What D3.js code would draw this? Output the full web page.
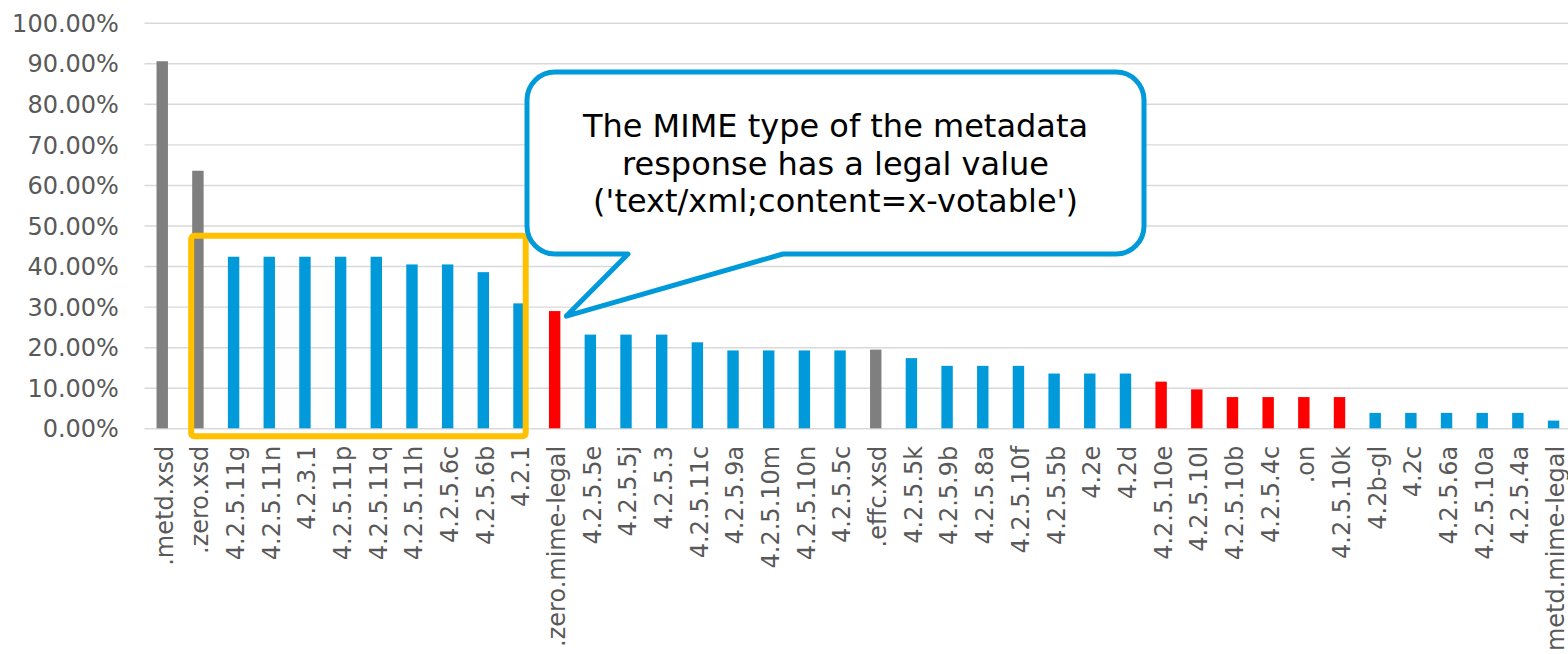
<!DOCTYPE html>
<html>
<head>
<meta charset="utf-8">
<script src="https://cdn.jsdelivr.net/npm/d3@7"></script>
<style>
  body { margin: 0; background: #fff; }
  svg { display: block; font-family: "DejaVu Sans", Verdana, sans-serif; }
</style>
</head>
<body>
<svg id="chart" width="1568" height="654"></svg>
<script>
// test ids along the x axis
var categories = [".metd.xsd", ".zero.xsd", "4.2.5.11g", "4.2.5.11n", "4.2.3.1", "4.2.5.11p", "4.2.5.11q",
  "4.2.5.11h", "4.2.5.6c", "4.2.5.6b", "4.2.1", ".zero.mime-legal", "4.2.5.5e", "4.2.5.5j", "4.2.5.3",
  "4.2.5.11c", "4.2.5.9a", "4.2.5.10m", "4.2.5.10n", "4.2.5.5c", ".effc.xsd", "4.2.5.5k", "4.2.5.9b",
  "4.2.5.8a", "4.2.5.10f", "4.2.5.5b", "4.2e", "4.2d", "4.2.5.10e", "4.2.5.10l", "4.2.5.10b", "4.2.5.4c",
  ".on", "4.2.5.10k", "4.2b-gl", "4.2c", "4.2.5.6a", "4.2.5.10a", "4.2.5.4a", "metd.mime-legal"];

// failure share per test
var values = [0.905, 0.635, 0.423, 0.423, 0.423, 0.423, 0.423,
  0.404, 0.404, 0.385, 0.308, 0.289, 0.231, 0.231, 0.231,
  0.212, 0.192, 0.192, 0.192, 0.192, 0.194, 0.173, 0.154,
  0.154, 0.154, 0.135, 0.135, 0.135, 0.115, 0.096, 0.077, 0.077,
  0.077, 0.077, 0.038, 0.038, 0.038, 0.038, 0.038, 0.019];

// bar colour group: s = schema, m = mime, t = other test
var groups = ["s", "s", "t", "t", "t", "t", "t",
  "t", "t", "t", "t", "m", "t", "t", "t",
  "t", "t", "t", "t", "t", "s", "t", "t",
  "t", "t", "t", "t", "t", "m", "m", "m", "m",
  "m", "m", "t", "t", "t", "t", "t", "t"];

var yTicks = [0, 0.1, 0.2, 0.3, 0.4, 0.5, 0.6, 0.7, 0.8, 0.9, 1.0];

var calloutLines = ["The MIME type of the metadata", "response has a legal value", "('text/xml;content=x-votable')"];

var colors = { s: "#7f7f7f", m: "#ff0000", t: "#009ada" };
var font = "'DejaVu Sans', Verdana, sans-serif";

var svg = d3.select("#chart");
var W = +svg.attr("width");

var plotLeft = 144.4, plotRight = 1571.4, plotTop = 22.7, plotBottom = 428.3;

var x = d3.scaleBand()
  .domain(categories)
  .range([plotLeft, plotRight])
  .paddingInner(0.68)
  .paddingOuter(0.34);

var y = d3.scaleLinear()
  .domain([0, 1])
  .range([plotBottom, plotTop]);

// y axis + gridlines
var yAxis = d3.axisLeft(y)
  .tickValues(yTicks)
  .tickFormat(d3.format(".2%"))
  .tickSize(-(W - plotLeft))
  .tickPadding(25.5);

var gy = svg.append("g")
  .attr("transform", "translate(" + plotLeft + ",0)")
  .call(yAxis)
  .attr("font-family", font)
  .attr("font-size", 24);
gy.select(".domain").remove();
gy.selectAll(".tick line").attr("stroke", "#d9d9d9").attr("stroke-width", 1.4);
gy.selectAll(".tick text")
  .attr("fill", "#595959")
  .attr("dy", "0.36em");

// bars
svg.append("g").selectAll("rect")
  .data(categories)
  .join("rect")
  .attr("x", function(d) { return x(d); })
  .attr("width", x.bandwidth())
  .attr("y", function(d, i) { return y(values[i]); })
  .attr("height", function(d, i) { return y(0) - y(values[i]); })
  .attr("fill", function(d, i) { return colors[groups[i]]; });

// x axis labels
var xAxis = d3.axisBottom(x).tickSize(0);
var gx = svg.append("g")
  .attr("transform", "translate(0," + plotBottom + ")")
  .call(xAxis)
  .attr("font-family", font)
  .attr("font-size", 24);
gx.select(".domain").remove();
gx.selectAll(".tick text")
  .attr("transform", "rotate(-90)")
  .attr("x", -17.5)
  .attr("y", 2)
  .attr("dy", "0.35em")
  .style("text-anchor", "end")
  .attr("fill", "#595959");

// yellow highlight box around .zero.xsd .. 4.2.1
var x0 = x(".zero.xsd") - 1, x1 = x("4.2.1") + x.bandwidth() + 1;
svg.append("rect")
  .attr("x", x0)
  .attr("y", y(0.475))
  .attr("width", x1 - x0)
  .attr("height", y(0) + 8 - y(0.475))
  .attr("rx", 3)
  .attr("fill", "none")
  .attr("stroke", "#ffc000")
  .attr("stroke-width", 6);

// callout bubble pointing at .zero.mime-legal
var cL = 527, cR = 1144, cT = 72, cB = 254, r = 28;
var tipX = x(".zero.mime-legal") + x.bandwidth() + 6;
var tipY = y(values[11]) + 5;
var p = d3.path();
p.moveTo(cL + r, cT);
p.lineTo(cR - r, cT);
p.arcTo(cR, cT, cR, cT + r, r);
p.lineTo(cR, cB - r);
p.arcTo(cR, cB, cR - r, cB, r);
p.lineTo(783, cB);
p.lineTo(tipX, tipY);
p.lineTo(628, cB);
p.lineTo(cL + r, cB);
p.arcTo(cL, cB, cL, cB - r, r);
p.lineTo(cL, cT + r);
p.arcTo(cL, cT, cL + r, cT, r);
p.closePath();

svg.append("path")
  .attr("d", p.toString())
  .attr("fill", "#fff")
  .attr("stroke", "#009ada")
  .attr("stroke-width", 5)
  .attr("stroke-linejoin", "round");

svg.append("g").selectAll("text")
  .data(calloutLines)
  .join("text")
  .attr("x", (cL + cR) / 2)
  .attr("y", function(d, i) { return 137 + i * 37.5; })
  .attr("text-anchor", "middle")
  .attr("font-family", font)
  .attr("font-size", 32)
  .attr("fill", "#000")
  .text(function(d) { return d; });
</script>
</body>
</html>
